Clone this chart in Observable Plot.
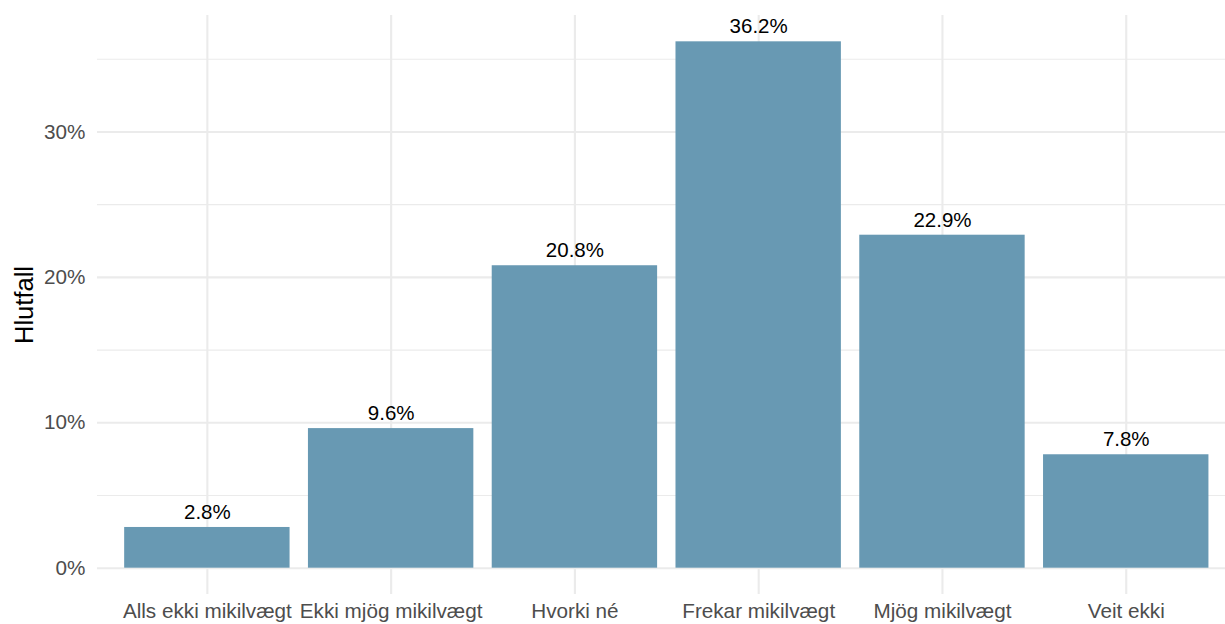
<!DOCTYPE html>
<html>
<head>
<meta charset="utf-8">
<script src="https://cdn.jsdelivr.net/npm/d3@7"></script>
<script src="https://cdn.jsdelivr.net/npm/@observablehq/plot@0.6"></script>
<style>
  html, body { margin: 0; padding: 0; background: #fff; }
  #chart svg { display: block; }
</style>
</head>
<body>
<div id="chart"></div>
<script>
const categories = ["Alls ekki mikilvægt", "Ekki mjög mikilvægt", "Hvorki né", "Frekar mikilvægt", "Mjög mikilvægt", "Veit ekki"];
const values = [2.8, 9.6, 20.8, 36.2, 22.9, 7.8];
const majorTicks = [0, 10, 20, 30];
const minorTicks = [5, 15, 25, 35];
const yTitle = "Hlutfall";

const data = categories.map((c, i) => ({cat: c, value: values[i], label: values[i].toFixed(1) + "%"}));
const font = "'Liberation Sans', Arial, sans-serif";
const grid = "#EBEBEB";
const ymax = d3.max(values);
const pad = ymax * 0.05;

const chart = Plot.plot({
  width: 1225,
  height: 624,
  marginLeft: 97,
  marginRight: 0,
  marginTop: 15,
  marginBottom: 30,
  style: {fontFamily: font, background: "#fff"},
  x: {domain: categories, range: [96.6, 1236], paddingInner: 0.1, paddingOuter: 0.15, round: false, label: null},
  y: {domain: [-pad, ymax + pad], label: null},
  marks: [
    Plot.ruleY(minorTicks, {stroke: grid, strokeWidth: 1.1}),
    Plot.ruleY(majorTicks, {stroke: grid, strokeWidth: 2.1}),
    Plot.ruleX(categories, {x: d => d, stroke: grid, strokeWidth: 2.1}),
    Plot.barY(data, {x: "cat", y: "value", fill: "#6899B3"}),
    Plot.text(data, {x: "cat", y: "value", text: "label", lineAnchor: "bottom", dy: -8.5, fontSize: 20.5, fill: "#000", fontFamily: font}),
    Plot.axisY(majorTicks, {tickSize: 0, tickPadding: 12, tickFormat: d => d + "%", fontSize: 20.7, fill: "#4D4D4D", label: null, fontFamily: font}),
    Plot.axisX({tickSize: 0, tickPadding: 9, fontSize: 20.7, fill: "#4D4D4D", label: null, fontFamily: font}),
    Plot.text([yTitle], {frameAnchor: "left", textAnchor: "middle", rotate: -90, dx: -73, fontSize: 25.5, fill: "#000", fontFamily: font})
  ]
});
document.getElementById("chart").appendChild(chart);
</script>
</body>
</html>
